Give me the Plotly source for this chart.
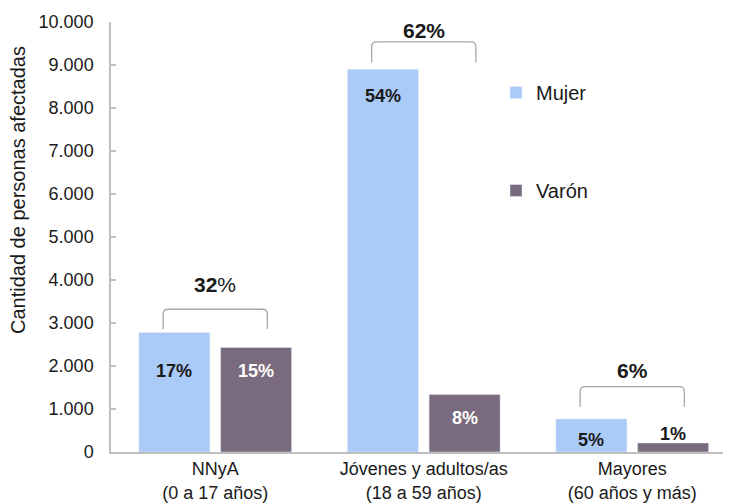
import plotly.graph_objects as go

# ---- data ----
categories = ["NNyA<br>(0 a 17 años)", "Jóvenes y adultos/as<br>(18 a 59 años)", "Mayores<br>(60 años y más)"]
mujer = [2780, 8900, 770]
varon = [2430, 1340, 210]
mujer_pct = [17, 54, 5]
varon_pct = [15, 8, 1]
y_ticks = [0, 1000, 2000, 3000, 4000, 5000, 6000, 7000, 8000, 9000, 10000]

# ---- layout constants (positions/styles) ----
mujer_label_y = [1884, 8279, 279]
varon_label_y = [1884, 791, 419]
varon_label_color = ["white", "white", "#1a1a1a"]
bracket_bottom = [2860, 9060, 1050]
bracket_top = [3320, 9540, 1520]
bracket_label_y = [3907, 9814, 1907]
BARGAP = 0.216
BARGROUPGAP = 0.131
C_MUJER = "#AACAF7"
C_VARON = "#7A6A7D"
FONT = "Liberation Sans, Arial, sans-serif"
TXT = "#1a1a1a"

x = list(range(len(categories)))

fig = go.Figure()
fig.add_trace(go.Bar(x=x, y=mujer, name="Mujer", marker_color=C_MUJER,
                     legendgroup="m", hoverinfo="skip"))
fig.add_trace(go.Bar(x=x, y=varon, name="Varón", marker_color=C_VARON,
                     legendgroup="v", hoverinfo="skip"))

slot = (1 - BARGAP) / 2
off = slot / 2
annotations = []
for i in x:
    annotations.append(dict(x=i - off, y=mujer_label_y[i], xref="x", yref="y",
                            text=f"<b>{mujer_pct[i]}%</b>", showarrow=False,
                            font=dict(size=18, color=TXT, family=FONT)))
    annotations.append(dict(x=i + off, y=varon_label_y[i], xref="x", yref="y",
                            text=f"<b>{varon_pct[i]}%</b>", showarrow=False,
                            font=dict(size=18, color=varon_label_color[i], family=FONT)))
    total = mujer_pct[i] + varon_pct[i]
    txt = f"<b>{total}</b>%" if i == 0 else f"<b>{total}%</b>"
    annotations.append(dict(x=i, y=bracket_label_y[i], xref="x", yref="y",
                            text=txt, showarrow=False,
                            font=dict(size=21, color=TXT, family=FONT)))

# page offset (body margin) compensation
OFF = 8
W, H = 731 - OFF, 504 - OFF
ML, MR, MT, MB = 111 - OFF, 0, 22 - OFF, 52
pw, ph = W - ML - MR, H - MT - MB

def px_x(p):
    return (p - OFF - ML) / pw

def px_y(p):
    return (H - MB - (p - OFF)) / ph

annotations.append(dict(x=px_x(18), y=px_y(190), xref="paper", yref="paper",
                        xanchor="center", yanchor="middle",
                        text="Cantidad de personas afectadas",
                        textangle=-90, showarrow=False,
                        font=dict(size=20, color=TXT, family=FONT)))

shapes = []
hw = 0.25
rx = 0.024
ry = 116
for i in x:
    x0, x1 = i - hw, i + hw
    yb, yt = bracket_bottom[i], bracket_top[i]
    path = (f"M {x0},{yb} L {x0},{yt - ry} Q {x0},{yt} {x0 + rx},{yt} "
            f"L {x1 - rx},{yt} Q {x1},{yt} {x1},{yt - ry} L {x1},{yb}")
    shapes.append(dict(type="path", path=path, xref="x", yref="y",
                       line=dict(color="#A6A6A6", width=1.3)))

fig.update_layout(
    width=W, height=H,
    margin=dict(l=ML, r=MR, t=MT, b=MB, pad=0),
    paper_bgcolor="white", plot_bgcolor="white",
    barmode="group", bargap=BARGAP, bargroupgap=BARGROUPGAP,
    separators=",.",
    font=dict(family=FONT, color=TXT),
    showlegend=True,
    legend=dict(x=px_x(496), y=px_y(73), xanchor="left", yanchor="top",
                traceorder="grouped", tracegroupgap=69, itemwidth=30,
                font=dict(size=20, color=TXT, family=FONT), bgcolor="rgba(0,0,0,0)"),
    annotations=annotations,
    shapes=shapes,
)
fig.update_xaxes(range=[-0.5, -0.5 + pw / 208.5], tickvals=x, ticktext=categories,
                 showline=True, linecolor="#BFBFBF", linewidth=1.5,
                 ticks="", showgrid=False, zeroline=False,
                 tickfont=dict(size=18, color=TXT, family=FONT), fixedrange=True)
fig.update_yaxes(range=[0, 10000], tickvals=y_ticks, tickformat=",d",
                 showline=True, linecolor="#BFBFBF", linewidth=1.5,
                 ticks="inside", ticklen=5, tickcolor="#BFBFBF", tickwidth=1.5,
                 showgrid=False, zeroline=False, ticklabelstandoff=12,
                 tickfont=dict(size=18, color=TXT, family=FONT), fixedrange=True)

fig.write_html("out.html", config={"displayModeBar": False})
